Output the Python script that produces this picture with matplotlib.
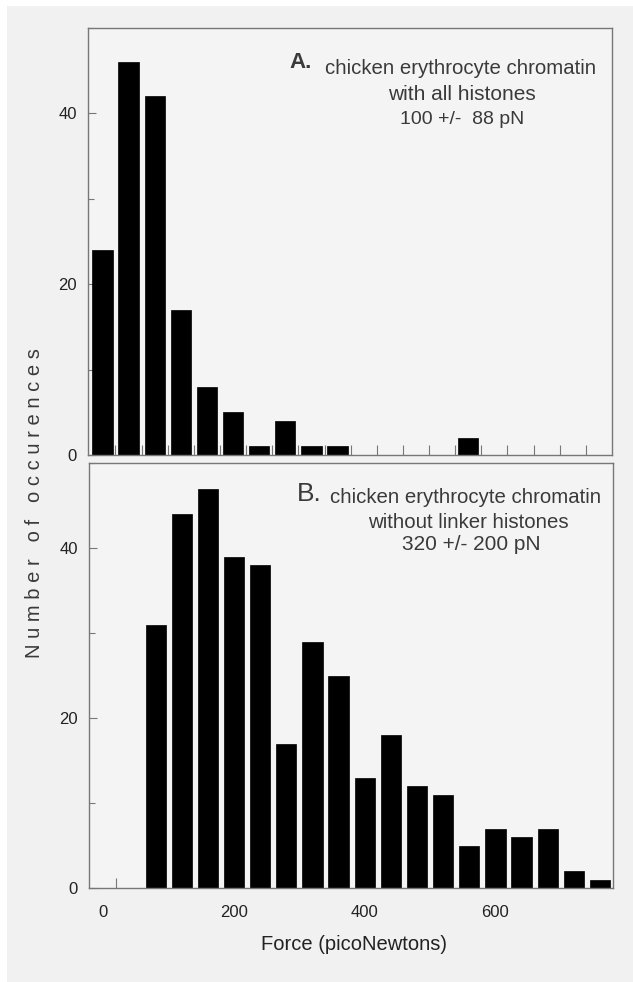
import matplotlib
matplotlib.use("Agg")
import matplotlib.pyplot as plt
from matplotlib.patches import Rectangle
from matplotlib.ticker import MultipleLocator, FixedLocator

# ---- data ----
bin_width_pn = 40
force_a = [0, 40, 80, 120, 160, 200, 240, 280, 320, 360, 560]
counts_a = [24, 46, 42, 17, 8, 5, 1, 4, 1, 1, 2]

force_b = [80, 120, 160, 200, 240, 280, 320, 360, 400, 440, 480, 520,
           560, 600, 640, 680, 720, 760]
counts_b = [31, 44, 47, 39, 38, 17, 29, 25, 13, 18, 12, 11, 5, 7, 6, 7, 2, 1]

x_ticks = [0, 200, 400, 600]
y_ticks = [0, 20, 40]

title_a = ["A.", "chicken erythrocyte chromatin", "with all histones", "100 +/-  88 pN"]
title_b = ["B.", "chicken erythrocyte chromatin", "without linker histones", "320 +/- 200 pN"]

# ---- style ----
FONT = ["Liberation Sans", "DejaVu Sans"]
plt.rcParams["font.family"] = FONT
BG = "#f1f1f1"
SPINE = "#777777"
TXT = "#3a3a3a"

W, H = 633, 982
fig = plt.figure(figsize=(W / 100, H / 100), dpi=100, facecolor="white")
fig.patches.append(Rectangle((7 / W, 0), 1 - 7 / W, 1 - 6 / H,
                             transform=fig.transFigure, facecolor=BG,
                             edgecolor="none", zorder=-10))

def fx(px):
    return px / W

def fy(py):
    return 1 - py / H

ax_a = fig.add_axes([fx(88), fy(455), fx(612) - fx(88), fy(28) - fy(455)])
ax_b = fig.add_axes([fx(89), fy(888), fx(613) - fx(89), fy(463) - fy(888)])

bar_w = 31
minor_a = list(range(20, 780, 40))
minor_b = [20]
for ax, xs, ys, minors in [(ax_a, force_a, counts_a, minor_a),
                           (ax_b, force_b, counts_b, minor_b)]:
    ax.set_facecolor("#f4f4f4")
    ax.bar(xs, ys, width=bar_w, color="black", edgecolor="black",
           linewidth=0.5, zorder=2)
    ax.set_xlim(-22, 780)
    ax.set_ylim(0, 50)
    for s in ax.spines.values():
        s.set_color(SPINE)
        s.set_linewidth(1.0)
    ax.yaxis.set_major_locator(FixedLocator(y_ticks))
    ax.yaxis.set_minor_locator(MultipleLocator(10))
    ax.xaxis.set_major_locator(FixedLocator(x_ticks))
    ax.xaxis.set_minor_locator(FixedLocator(minors))
    ax.tick_params(axis="both", which="both", direction="in", colors=SPINE,
                   labelcolor="#222222", labelsize=12, width=0.8)
    ax.tick_params(axis="y", which="major", length=6, pad=8)
    ax.tick_params(axis="y", which="minor", length=4)
    ax.tick_params(axis="x", which="major", length=0, pad=12)
    ax.tick_params(axis="x", which="minor", length=7)
    ax.tick_params(top=False, right=False, which="both")

ax_a.tick_params(axis="x", labelbottom=False)

# annotations
fig.text(fx(289), fy(63), title_a[0], fontsize=16, fontweight="bold",
         color=TXT, ha="left", va="center")
fig.text(fx(325), fy(68), title_a[1], fontsize=14.7, color=TXT,
         ha="left", va="center")
fig.text(fx(462), fy(94), title_a[2], fontsize=15, color=TXT,
         ha="center", va="center")
fig.text(fx(462), fy(119), title_a[3], fontsize=14, color=TXT,
         ha="center", va="center")

fig.text(fx(297), fy(494), title_b[0], fontsize=19, color=TXT,
         ha="left", va="center")
fig.text(fx(330), fy(498), title_b[1], fontsize=14.7, color=TXT,
         ha="left", va="center")
fig.text(fx(468), fy(522), title_b[2], fontsize=14.7, color=TXT,
         ha="center", va="center")
fig.text(fx(471), fy(545), title_b[3], fontsize=15, color=TXT,
         ha="center", va="center")

fig.text(fx(354), fy(945), "Force (picoNewtons)", fontsize=14.5,
         color="#222222", ha="center", va="center")
fig.text(fx(35), fy(503), "N u m b e r   o f   o c c u r e n c e s",
         fontsize=14.5, color=TXT, rotation=90, ha="center", va="center")

fig.savefig("out.png", dpi=100, facecolor=fig.get_facecolor())
